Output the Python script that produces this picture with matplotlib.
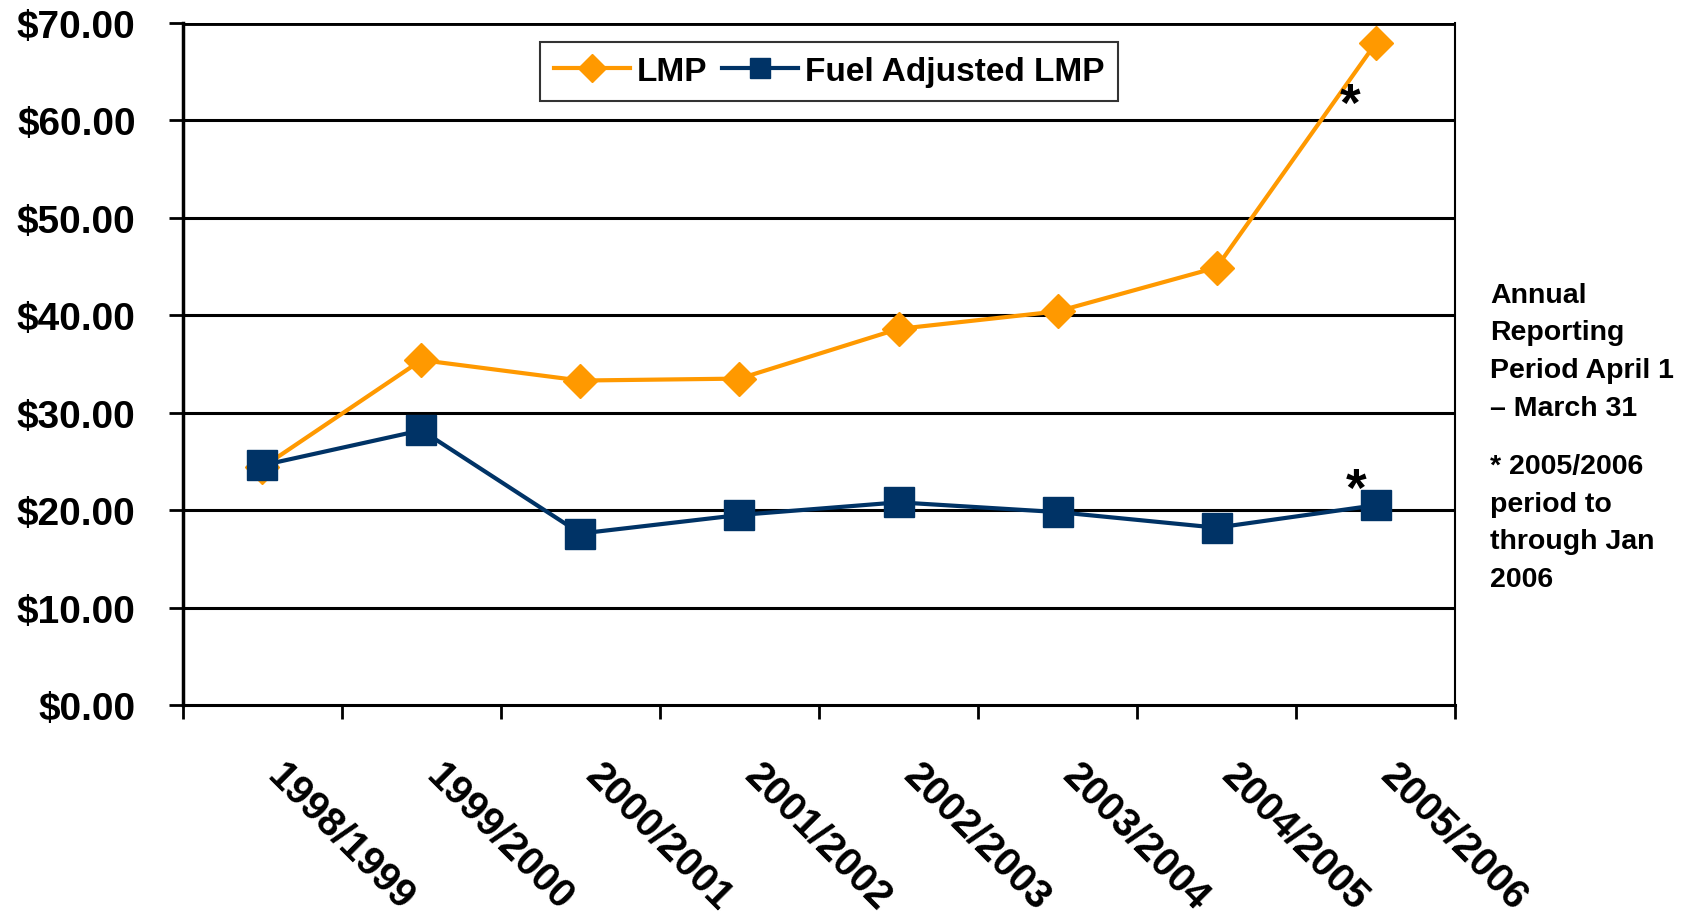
import matplotlib.pyplot as plt
from matplotlib.transforms import ScaledTranslation

periods = ["1998/1999", "1999/2000", "2000/2001", "2001/2002",
           "2002/2003", "2003/2004", "2004/2005", "2005/2006"]
lmp = [24.4, 35.4, 33.3, 33.5, 38.6, 40.4, 44.9, 67.9]
fuel_adjusted_lmp = [24.6, 28.2, 17.6, 19.5, 20.8, 19.8, 18.2, 20.5]
y_ticks = [0, 10, 20, 30, 40, 50, 60, 70]

plt.rcParams["font.family"] = ["Liberation Sans", "DejaVu Sans"]
plt.rcParams["font.weight"] = "bold"

fig = plt.figure(figsize=(17.05, 9.12), dpi=100)
ax = fig.add_axes([0.1073, 0.2259, 0.7461, 0.7478])

x = list(range(len(periods)))

# grid lines
for v in y_ticks[1:]:
    ax.axhline(v, color="black", linewidth=2.2 if v < 70 else 3.5, zorder=1)

ax.plot(x, lmp, color="#FF9900", linewidth=3, marker="D", markersize=17,
        label="LMP", zorder=3)
ax.plot(x, fuel_adjusted_lmp, color="#003366", linewidth=3, marker="s",
        markersize=22, label="Fuel Adjusted LMP", zorder=4)

ax.set_xlim(-0.5, len(periods) - 0.5)
ax.set_ylim(0, 70)

ax.set_yticks(y_ticks)
ax.set_yticklabels([f"${v:.2f}" for v in y_ticks], fontsize=28, fontweight="bold")
ax.tick_params(axis="y", length=10, width=2, pad=24)

ax.set_xticks([i - 0.5 for i in range(len(periods) + 1)], minor=True)
ax.set_xticks(x)
ax.set_xticklabels(periods, fontsize=29, fontweight="bold", rotation=-45,
                   ha="left", va="top", rotation_mode="anchor")
ax.tick_params(axis="x", which="major", length=0, pad=36)
ax.tick_params(axis="x", which="minor", length=10, width=2)
shift = ScaledTranslation(0.245, 0, fig.dpi_scale_trans)
for lbl in ax.get_xticklabels():
    lbl.set_transform(lbl.get_transform() + shift)

ax.spines["top"].set_visible(False)
ax.spines["left"].set_linewidth(2.5)
ax.spines["bottom"].set_linewidth(2.2)
ax.spines["right"].set_linewidth(1.5)

leg = ax.legend(loc="upper center", bbox_to_anchor=(0.508, 0.972), ncol=2,
                frameon=True, fancybox=False, edgecolor="black",
                prop={"size": 24, "weight": "bold"}, handlelength=2.28,
                columnspacing=0.45, handletextpad=0.2, borderpad=0.42,
                borderaxespad=0)
leg.get_frame().set_linewidth(1.5)
leg.legend_handles[0].set_markersize(14.5)
leg.legend_handles[1].set_markersize(14)

ax.text(6.84, 61.5, "*", fontsize=38, fontweight="bold", ha="center", va="center")
ax.text(6.88, 22.0, "*", fontsize=38, fontweight="bold", ha="center", va="center")

fig.text(0.874, 0.690, "Annual\nReporting\nPeriod April 1\n\u2013 March 31",
         fontsize=20.5, fontweight="bold", va="top", ha="left", linespacing=1.58)
fig.text(0.874, 0.502, "* 2005/2006\nperiod to\nthrough Jan\n2006",
         fontsize=20.5, fontweight="bold", va="top", ha="left", linespacing=1.58)

fig.savefig("out.png", dpi=100)
